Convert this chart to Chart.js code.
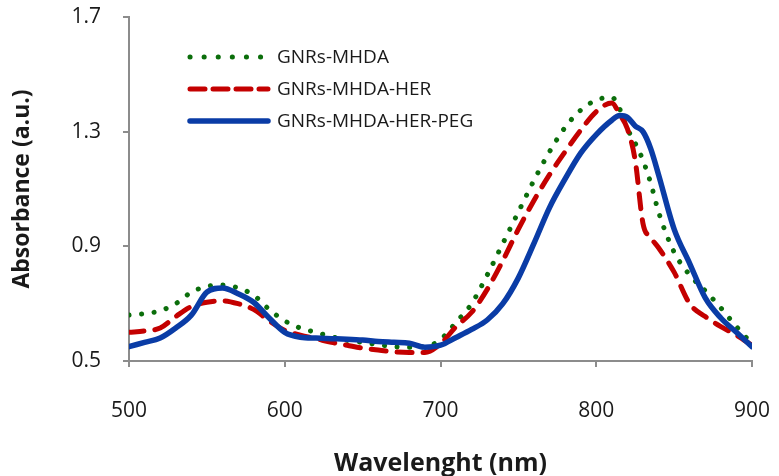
<!DOCTYPE html>
<html>
<head>
<meta charset="utf-8">
<script src="https://cdn.jsdelivr.net/npm/chart.js@4.4.1/dist/chart.umd.min.js"></script>
<style>
  body { margin: 0; background: #fff; }
  #wrap { width: 779px; height: 476px; }
</style>
</head>
<body>
<div id="wrap"><canvas id="spectra" width="779" height="476"></canvas></div>
<script>
// wavelengths (nm)
const wavelength = [500, 510, 520, 530, 540, 550, 560, 570, 580, 590, 600, 610, 620, 630, 640, 650, 660, 670, 680, 690,
  700, 710, 720, 730, 740, 750, 760, 770, 780, 790, 800, 810, 815, 820, 825, 830, 835, 840, 850, 860, 870, 880, 890, 900];

const mhda = [0.66, 0.665, 0.675, 0.70, 0.74, 0.76, 0.765, 0.755, 0.73, 0.68, 0.64, 0.615, 0.60, 0.585, 0.572, 0.565, 0.557, 0.55, 0.548, 0.55,
  0.575, 0.635, 0.70, 0.80, 0.91, 1.02, 1.13, 1.23, 1.315, 1.375, 1.41, 1.42, 1.38, 1.31, 1.26, 1.20, 1.12, 1.02, 0.88, 0.80, 0.745, 0.685, 0.62, 0.56];

const mhdaHer = [0.60, 0.605, 0.615, 0.655, 0.69, 0.705, 0.71, 0.70, 0.68, 0.64, 0.607, 0.59, 0.578, 0.565, 0.555, 0.545, 0.538, 0.532, 0.53, 0.53,
  0.56, 0.62, 0.67, 0.75, 0.85, 0.96, 1.06, 1.15, 1.23, 1.305, 1.37, 1.40, 1.36, 1.31, 1.20, 0.98, 0.93, 0.895, 0.81, 0.70, 0.655, 0.62, 0.59, 0.555];

const mhdaHerPeg = [0.55, 0.565, 0.58, 0.615, 0.66, 0.74, 0.755, 0.735, 0.705, 0.65, 0.60, 0.583, 0.58, 0.578, 0.576, 0.573, 0.568, 0.565, 0.562, 0.548,
  0.555, 0.582, 0.61, 0.643, 0.70, 0.79, 0.91, 1.035, 1.135, 1.225, 1.29, 1.34, 1.356, 1.35, 1.32, 1.30, 1.24, 1.15, 0.96, 0.84, 0.72, 0.65, 0.60, 0.55];

const seriesNames = ['GNRs-MHDA', 'GNRs-MHDA-HER', 'GNRs-MHDA-HER-PEG'];
const yTicks = [0.5, 0.9, 1.3, 1.7];
const xTicks = [500, 600, 700, 800, 900];

function pts(ys) {
  return wavelength.map((w, i) => ({ x: w, y: ys[i] }));
}

const axisGrey = '#8c8c8c';
const fontFam = "'Open Sans', 'DejaVu Sans', sans-serif";

// legend drawn inside the plot area, top left
const innerLegend = {
  id: 'innerLegend',
  afterDatasetsDraw(chart) {
    const ctx = chart.ctx;
    const rows = [57, 89, 121];
    const dashes = [[0.1, 14], [15, 8], []];
    chart.data.datasets.forEach((ds, i) => {
      const y = rows[i];
      ctx.save();
      ctx.strokeStyle = ds.borderColor;
      ctx.lineWidth = ds.borderWidth;
      ctx.lineCap = ds.borderCapStyle || 'butt';
      ctx.setLineDash(dashes[i]);
      ctx.beginPath();
      ctx.moveTo(190, y);
      ctx.lineTo(268, y);
      ctx.stroke();
      ctx.setLineDash([]);
      ctx.fillStyle = '#1a1a1a';
      ctx.font = '19px ' + fontFam;
      ctx.textBaseline = 'middle';
      ctx.fillText(ds.label, 277, y + 1);
      ctx.restore();
    });
  }
};

new Chart(document.getElementById('spectra').getContext('2d'), {
  type: 'line',
  data: {
    datasets: [
      {
        label: seriesNames[0],
        data: pts(mhda),
        borderColor: '#0b6e0b',
        borderWidth: 5,
        borderDash: [0.1, 12.5],
        borderCapStyle: 'round',
        order: 3
      },
      {
        label: seriesNames[1],
        data: pts(mhdaHer),
        borderColor: '#c40000',
        borderWidth: 5,
        borderDash: [15, 11],
        borderCapStyle: 'round',
        order: 2
      },
      {
        label: seriesNames[2],
        data: pts(mhdaHerPeg),
        borderColor: '#0a3ca6',
        borderWidth: 5.5,
        borderCapStyle: 'round',
        order: 1
      }
    ]
  },
  options: {
    responsive: false,
    animation: false,
    devicePixelRatio: 1,
    layout: { padding: { top: 17, right: 27, bottom: 0, left: 0 } },
    elements: {
      point: { radius: 0 },
      line: { tension: 0.4, cubicInterpolationMode: 'monotone', fill: false }
    },
    plugins: {
      legend: { display: false },
      tooltip: { enabled: false }
    },
    scales: {
      x: {
        type: 'linear',
        min: 500,
        max: 900,
        afterBuildTicks(scale) {
          scale.ticks = xTicks.map(v => ({ value: v }));
        },
        grid: { display: true, drawOnChartArea: false, drawTicks: true, tickLength: 6, color: axisGrey, lineWidth: 2 },
        border: { color: axisGrey, width: 2 },
        ticks: { color: '#1a1a1a', font: { family: fontFam, size: 21 }, padding: 31 },
        title: {
          display: true,
          text: 'Wavelenght (nm)',
          color: '#1a1a1a',
          font: { family: fontFam, size: 25, weight: 'bold' },
          padding: { top: 8, bottom: -3 }
        },
        afterFit(scale) {
          scale.height = 115;
          scale.paddingLeft = 0;
          scale.paddingRight = 0;
        }
      },
      y: {
        type: 'linear',
        min: 0.5,
        max: 1.7,
        afterBuildTicks(scale) {
          scale.ticks = yTicks.map(v => ({ value: v }));
        },
        grid: { display: true, drawOnChartArea: false, drawTicks: true, tickLength: 6, color: axisGrey, lineWidth: 2 },
        border: { color: axisGrey, width: 2 },
        ticks: { color: '#1a1a1a', font: { family: fontFam, size: 21 }, padding: 22,
          callback: v => v.toFixed(1) },
        title: {
          display: true,
          text: 'Absorbance (a.u.)',
          color: '#1a1a1a',
          font: { family: fontFam, size: 23, weight: 'bold' },
          padding: { top: 9, bottom: 6 }
        },
        afterFit(scale) {
          scale.width = 129;
          scale.paddingTop = 0;
          scale.paddingBottom = 0;
        }
      }
    }
  },
  plugins: [innerLegend]
});
</script>
</body>
</html>
